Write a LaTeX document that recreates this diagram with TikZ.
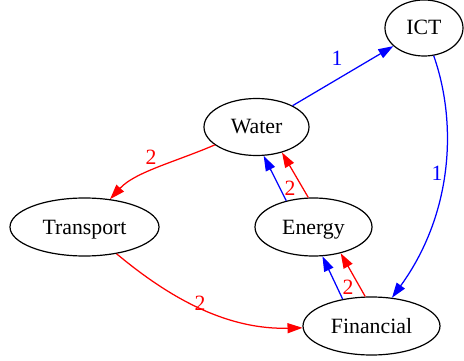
\documentclass[tikz,border=0pt]{standalone}
\usepackage{fontspec}
\setmainfont{Liberation Serif}
\usetikzlibrary{shapes.geometric,arrows.meta}
\begin{document}
\begin{tikzpicture}[x=1pt,y=-1pt,
  ell/.style={ellipse,draw=black,line width=1.2pt,inner sep=0pt,
    font=\fontsize{21.8}{25}\selectfont,text height=18pt,text depth=4pt},
  lbl/.style={font=\fontsize{21.8}{25}\selectfont,inner sep=0pt,text height=15pt,text depth=0pt},
  edge/.style={line width=1.25pt,-{Triangle[length=15pt,width=10pt]}},
]
\useasboundingbox (0,0) rectangle (464,361);
\node[ell,minimum width=78pt,minimum height=56pt] (ICT) at (424,28) {ICT};
\node[ell,minimum width=105pt,minimum height=57pt] (Water) at (256.5,127) {Water};
\node[ell,minimum width=149pt,minimum height=58pt] (Transport) at (84.5,227) {Transport};
\node[ell,minimum width=117pt,minimum height=58pt] (Energy) at (313.5,227) {Energy};
\node[ell,minimum width=137pt,minimum height=58pt] (Financial) at (371.5,326) {Financial};

\draw[edge,blue] (Water) -- (ICT);
\draw[edge,blue] (ICT) .. controls (458,125) and (452,215) .. (Financial);
\draw[edge,red] (Water) .. controls (175,162) and (135,172) .. (Transport);
\draw[edge,red] (Transport) .. controls (160,290) and (220,330) .. (Financial);
\draw[edge,blue] (Energy.136) -- (Water.284);
\draw[edge,red] (Energy.100) -- (Water.315);
\draw[edge,blue] (Financial.137) -- (Energy.287);
\draw[edge,red] (Financial.102) -- (Energy.316);

\node[lbl,text=blue] (l1) at (337,58) {1};
\node[lbl,text=blue] (l2) at (437,173) {1};
\node[lbl,text=red] (l3) at (151,157) {2};
\node[lbl,text=red] (l4) at (200,303) {2};
\node[lbl,text=red] (l5) at (290,188) {2};
\node[lbl,text=red] (l6) at (348,287) {2};
\end{tikzpicture}
\end{document}
